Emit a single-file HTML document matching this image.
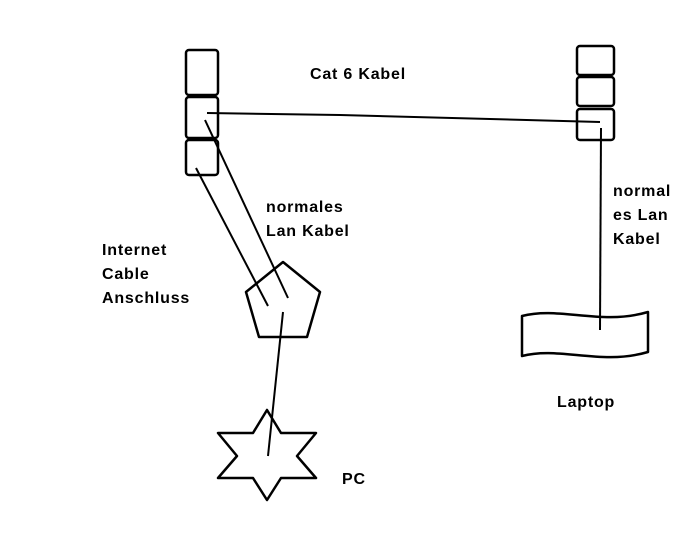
<!DOCTYPE html>
<html><head><style>
body{margin:0;background:#fff;width:696px;height:538px;overflow:hidden}
svg{position:absolute;left:0;top:0}
.t{position:absolute;font-family:"Liberation Sans",sans-serif;font-weight:bold;font-size:16px;letter-spacing:0.8px;line-height:24px;color:#000}
</style></head><body>
<svg width="696" height="538" fill="none" stroke="#000" stroke-width="2.5" stroke-linejoin="round">
<rect x="186" y="50" width="32" height="45" rx="3"/>
<rect x="186" y="97" width="32" height="41" rx="3"/>
<rect x="186" y="140" width="32" height="35" rx="3"/>
<rect x="577" y="46" width="37" height="29" rx="3"/>
<rect x="577" y="77" width="37" height="29" rx="3"/>
<rect x="577" y="109" width="37" height="31" rx="3"/>
<polyline points="207,113 340,115 600,122" stroke-width="2"/>
<line x1="601" y1="128" x2="600" y2="330" stroke-width="2"/>
<line x1="196" y1="168" x2="268" y2="306" stroke-width="2"/>
<line x1="205" y1="120" x2="288" y2="298" stroke-width="2"/>
<line x1="283" y1="312" x2="268" y2="456" stroke-width="2"/>
<polygon points="283,262 320,292 307,337 259,337 246,292"/>
<polygon points="267,410 281,433 316,433 297,456 316,478 281,478 267,500 253,478 218,478 237,456 218,433 253,433"/>
<path d="M522,316 C560,306 600,326 648,312 L648,352 C600,366 560,346 522,356 Z"/>
</svg>
<div class="t" style="left:310px;top:63px">Cat 6 Kabel</div>
<div class="t" style="left:266px;top:196px">normales<br>Lan Kabel</div>
<div class="t" style="left:102px;top:239px">Internet<br>Cable<br>Anschluss</div>
<div class="t" style="left:613px;top:180px">normal<br>es Lan<br>Kabel</div>
<div class="t" style="left:557px;top:391px">Laptop</div>
<div class="t" style="left:342px;top:468px">PC</div>
</body></html>
